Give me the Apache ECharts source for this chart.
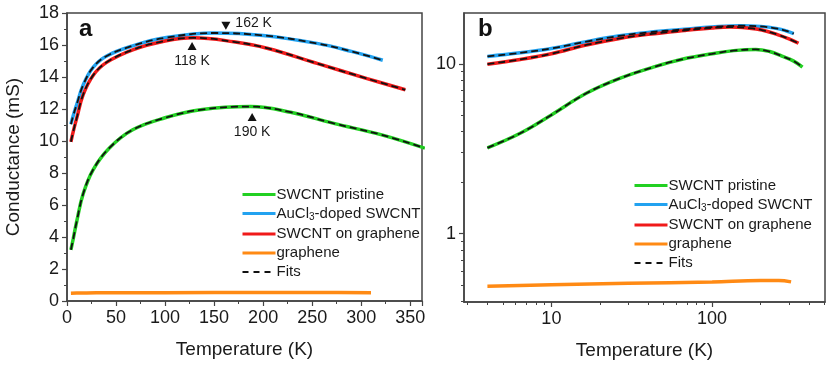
<!DOCTYPE html>
<html>
<head>
<meta charset="utf-8">
<title>Conductance vs temperature</title>
<script src="https://cdn.jsdelivr.net/npm/echarts@6/dist/echarts.min.js"></script>
<style>
  html, body { margin: 0; padding: 0; background: #fff; }
  #chart { width: 830px; height: 368px; }
</style>
</head>
<body>
<div id="chart"></div>
<script>
// data (T in K, G in mS)
var pristineT = [4, 6.4, 10, 16.5, 26.6, 43, 67, 100, 136, 187, 228, 272, 320, 365];
var pristineG = [3.2, 3.9, 5.0, 6.7, 8.2, 9.55, 10.7, 11.45, 11.95, 12.15, 11.8, 11.1, 10.4, 9.55];
var dopedT = [4, 6.4, 10, 16.5, 26.6, 40, 67, 100, 150, 200, 255, 290, 322];
var dopedG = [11.05, 11.6, 12.3, 13.5, 14.6, 15.3, 15.95, 16.45, 16.75, 16.6, 16.1, 15.6, 15.05];
var onGrapheneT = [4, 6.4, 10, 16.5, 26.6, 40, 67, 100, 129, 170, 204, 255, 306, 345];
var onGrapheneG = [9.95, 10.6, 11.45, 12.9, 14.1, 14.9, 15.7, 16.25, 16.45, 16.2, 15.8, 14.85, 13.9, 13.2];
var grapheneT = [4, 10, 30, 100, 200, 260, 310];
var grapheneG = [0.49, 0.50, 0.51, 0.52, 0.53, 0.53, 0.52];

var names = ['SWCNT pristine', 'AuCl3-doped SWCNT', 'SWCNT on graphene', 'graphene'];
var colors = ['#22d022', '#22a2f0', '#f01a1a', '#ff8a14'];

var logMajorX = [10, 100];
var logMinorX = [3, 4, 5, 6, 7, 8, 9, 20, 30, 40, 50, 60, 70, 80, 90, 200, 300, 400, 500];
var logMajorY = [1, 10];
var logMinorY = [0.4, 0.5, 0.6, 0.7, 0.8, 0.9, 2, 3, 4, 5, 6, 7, 8, 9];

// peak markers: [T, G, label, pointing down?]
var peaks = [[162, 17.2, '162 K', true], [127.5, 15.94, '118 K', false], [188.8, 11.5, '190 K', false]];

function pairs(t, g) {
    return t.map(function (v, i) { return [v, g[i]]; });
}
var curves = [pairs(pristineT, pristineG), pairs(dopedT, dopedG), pairs(onGrapheneT, onGrapheneG), pairs(grapheneT, grapheneG)];

var font = 'Liberation Sans, Arial, sans-serif';
var axisColor = '#444';
var textColor = '#1a1a1a';

var series = [];
[0, 1].forEach(function (panel) {
    curves.forEach(function (d, i) {
        series.push({
            name: names[i], type: 'line', xAxisIndex: panel, yAxisIndex: panel,
            data: d, smooth: 0.4, symbol: 'none',
            lineStyle: { color: colors[i], width: 3.5 }, itemStyle: { color: colors[i] }, z: 2
        });
    });
    // fits (only for the SWCNT curves)
    curves.slice(0, 3).forEach(function (d) {
        series.push({
            name: 'Fits', type: 'line', xAxisIndex: panel, yAxisIndex: panel,
            data: d, smooth: 0.4, symbol: 'none',
            lineStyle: { color: '#111', width: 1.8, type: [7, 4] }, itemStyle: { color: '#111' }, z: 3
        });
    });
});

series.push({
    type: 'scatter', xAxisIndex: 0, yAxisIndex: 0, silent: true, z: 5,
    data: peaks.map(function (p) {
        return {
            value: [p[0], p[1]], symbolRotate: p[3] ? 180 : 0,
            label: p[3]
                ? { show: true, position: 'right', distance: 5, offset: [0, -3], color: textColor, fontSize: 14, fontFamily: font }
                : { show: true, position: 'bottom', distance: 4, color: textColor, fontSize: 14, fontFamily: font }
        };
    }),
    symbol: 'triangle', symbolSize: [9, 8],
    itemStyle: { color: '#111', opacity: 1 },
    label: {
        show: true, color: textColor, fontSize: 14, fontFamily: font,
        formatter: function (p) { return peaks[p.dataIndex][2]; }
    }
});

function legend(left, top) {
    return {
        orient: 'vertical', left: left, top: top, itemWidth: 33, itemHeight: 14, itemGap: 4,
        data: names.concat([{ name: 'Fits', lineStyle: { width: 1.8, type: [6, 5] } }]),
        selectedMode: false,
        itemStyle: { color: 'rgba(0,0,0,0)', borderColor: 'rgba(0,0,0,0)', borderWidth: 0 },
        lineStyle: { width: 3 },
        textStyle: {
            fontSize: 15, fontFamily: font, color: textColor, padding: [0, 0, 0, -4],
            rich: { sub: { fontSize: 10, fontFamily: font, color: textColor, verticalAlign: 'bottom', padding: [8, 0, 0, 0] } }
        },
        formatter: function (n) { return n === 'AuCl3-doped SWCNT' ? 'AuCl{sub|3}-doped SWCNT' : n; }
    };
}

var tickLabel = { fontSize: 18, fontFamily: font, color: textColor };
var nameStyle = { fontSize: 19, fontFamily: font, color: textColor };
var line = { show: true, lineStyle: { color: axisColor, width: 1.5 } };

var option = {
    animation: false,
    title: [
        { text: 'a', left: 74, top: 12, textStyle: { fontSize: 24, fontWeight: 'bold', fontFamily: font, color: '#111' } },
        { text: 'b', left: 473, top: 12, textStyle: { fontSize: 24, fontWeight: 'bold', fontFamily: font, color: '#111' } }
    ],
    legend: [legend(236, 182), legend(628, 173)],
    grid: [
        { left: 67, right: 408, top: 13, bottom: 67, show: true, borderColor: axisColor, borderWidth: 1.5 },
        { left: 464, right: 5, top: 13, bottom: 66, show: true, borderColor: axisColor, borderWidth: 1.5 }
    ],
    xAxis: [
        {
            type: 'value', gridIndex: 0, min: 0, max: 362, interval: 50,
            name: 'Temperature (K)', nameLocation: 'middle', nameGap: 39, nameTextStyle: nameStyle,
            axisLine: line, splitLine: { show: false },
            axisTick: { length: 5, lineStyle: { color: axisColor, width: 1.2 } },
            minorTick: { show: true, splitNumber: 2, length: 3, lineStyle: { color: axisColor, width: 1 } },
            axisLabel: Object.assign({ margin: 8 }, tickLabel)
        },
        {
            type: 'log', gridIndex: 1, min: 2.86, max: 504,
            name: 'Temperature (K)', nameLocation: 'middle', nameGap: 39, nameTextStyle: nameStyle,
            axisLine: line, splitLine: { show: false },
            axisTick: { length: 5, customValues: logMajorX, lineStyle: { color: axisColor, width: 1.2 } },
            axisLabel: Object.assign({ margin: 8, customValues: logMajorX }, tickLabel)
        },
        {
            type: 'log', gridIndex: 1, min: 2.86, max: 504, position: 'bottom',
            axisLine: { show: false }, splitLine: { show: false },
            axisTick: { length: 3, customValues: logMinorX, lineStyle: { color: axisColor, width: 1 } },
            axisLabel: { show: false }
        }
    ],
    yAxis: [
        {
            type: 'value', gridIndex: 0, min: 0, max: 18, interval: 2,
            name: 'Conductance (mS)', nameLocation: 'middle', nameGap: 44, nameTextStyle: nameStyle,
            axisLine: line, splitLine: { show: false },
            axisTick: { length: 5, lineStyle: { color: axisColor, width: 1.2 } },
            minorTick: { show: true, splitNumber: 2, length: 3, lineStyle: { color: axisColor, width: 1 } },
            axisLabel: Object.assign({ margin: 8 }, tickLabel)
        },
        {
            type: 'log', gridIndex: 1, min: 0.396, max: 19.9,
            axisLine: line, splitLine: { show: false },
            axisTick: { length: 5, customValues: logMajorY, lineStyle: { color: axisColor, width: 1.2 } },
            axisLabel: Object.assign({ margin: 8, customValues: logMajorY }, tickLabel)
        },
        {
            type: 'log', gridIndex: 1, min: 0.396, max: 19.9, position: 'left',
            axisLine: { show: false }, splitLine: { show: false },
            axisTick: { length: 3, customValues: logMinorY, lineStyle: { color: axisColor, width: 1 } },
            axisLabel: { show: false }
        }
    ],
    series: series
};

var chart = echarts.init(document.getElementById('chart'), null, { renderer: 'canvas' });
chart.setOption(option);
</script>
</body>
</html>
